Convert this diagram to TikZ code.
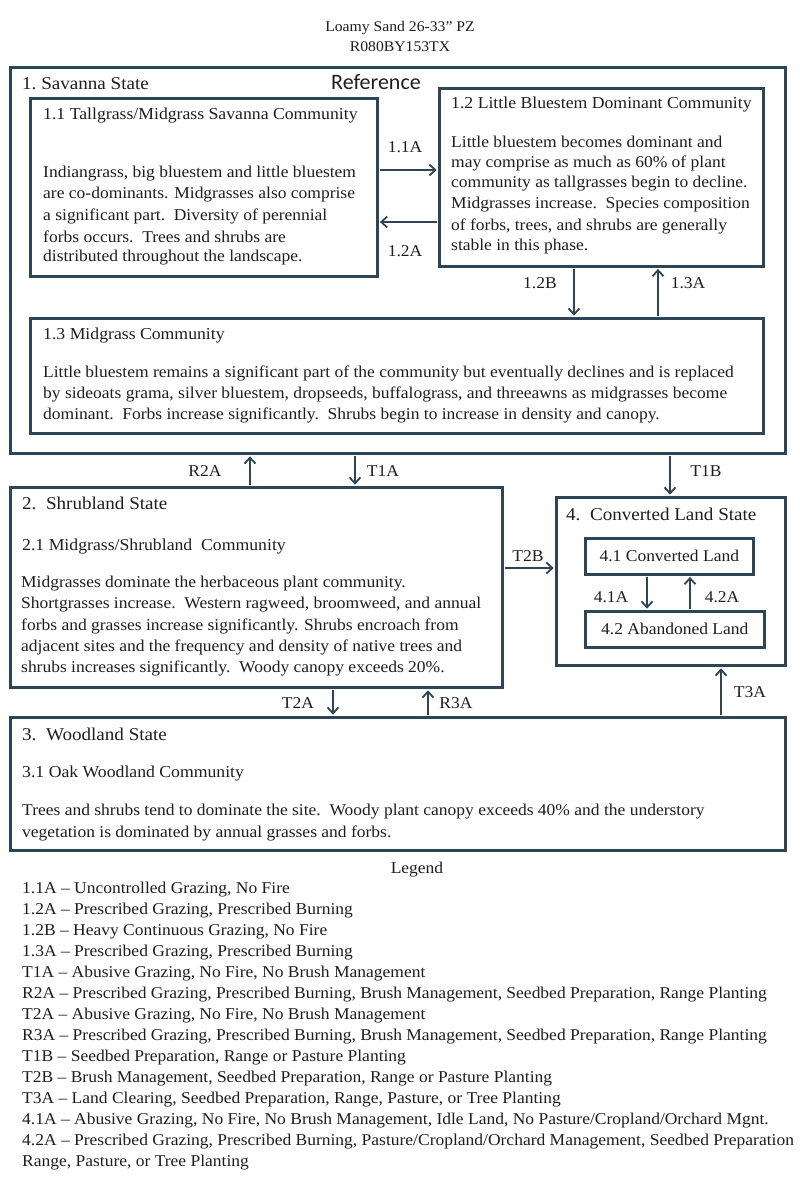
\documentclass[tikz,border=0pt]{standalone}
\usepackage{fontspec}
\setmainfont[FakeStretch=1.06]{Liberation Serif}
\newfontfamily\refsans{Carlito}
\usetikzlibrary{arrows.meta}
\definecolor{edge}{HTML}{2E4557}
\definecolor{ink}{HTML}{1E1E1E}
\tikzset{
  statebox/.style={draw=edge, line width=3pt, anchor=north west, inner sep=0pt},
  commbox/.style={draw=edge, line width=2.6pt, anchor=north west, inner sep=0pt},
  trans/.style={draw=edge, line width=1.8pt, shorten >=1.3pt, shorten <=1.3pt,
    -{Straight Barb[length=6pt,width=11pt,line width=1.8pt]}},
  txt/.style={anchor=west, inner sep=0pt, text=ink, font=\fontsize{16.5}{21}\selectfont},
  hdr/.style={anchor=west, inner sep=0pt, text=ink, font=\fontsize{16.7}{21}\selectfont},
  shdr/.style={anchor=west, inner sep=0pt, text=ink, font=\fontsize{18}{21}\selectfont},
  lbl/.style={inner sep=0pt, text=ink, font=\fontsize{16.5}{21}\selectfont},
  ttl/.style={inner sep=0pt, text=ink, font=\fontsize{14.8}{21}\selectfont},
  leg/.style={anchor=west, inner sep=0pt, text=ink, font=\fontsize{16.5}{21}\selectfont},
}
\begin{document}
\begin{tikzpicture}[x=1pt,y=-1pt]
\useasboundingbox[fill=white] (0,0) rectangle (800,1192);

% title
\node[ttl] (t1) at (400,28) {Loamy Sand 26-33'' PZ};
\node[ttl] (t2) at (400,47) {R080BY153TX};

% boxes
\node[statebox, minimum width=775pt, minimum height=386pt] (s1) at (9,66) {};
\node[commbox, minimum width=347pt, minimum height=178pt] (b11) at (29,97) {};
\node[commbox, minimum width=324pt, minimum height=178pt] (b12) at (438,87) {};
\node[commbox, minimum width=733pt, minimum height=115pt] (b13) at (29,317) {};
\node[statebox, minimum width=492pt, minimum height=200pt] (s2) at (9,486) {};
\node[statebox, minimum width=229pt, minimum height=168pt] (s4) at (555,496) {};
\node[commbox, minimum width=168pt, minimum height=36pt] (b41) at (584,537) {};
\node[commbox, minimum width=179pt, minimum height=36pt] (b42) at (584,610) {};
\node[statebox, minimum width=775pt, minimum height=133pt] (s3) at (9,716) {};

% helper coordinates for connector positions
\coordinate (y170) at (0,170);
\coordinate (y222) at (0,222);
\coordinate (y568) at (0,568);
\coordinate (x574) at (574,0);
\coordinate (x658) at (658,0);
\coordinate (x250) at (250,0);
\coordinate (x355) at (355,0);
\coordinate (x670) at (670,0);
\coordinate (x647) at (647,0);
\coordinate (x690) at (690,0);
\coordinate (x333) at (333,0);
\coordinate (x428) at (428,0);
\coordinate (x721) at (721,0);

% connectors
\draw[trans] (b11.east |- y170) -- (b12.west |- y170);
\draw[trans] (b12.west |- y222) -- (b11.east |- y222);
\draw[trans] (b12.south -| x574) -- (b13.north -| x574);
\draw[trans] (b13.north -| x658) -- (b12.south -| x658);
\draw[trans] (s2.north -| x250) -- (s1.south -| x250);
\draw[trans] (s1.south -| x355) -- (s2.north -| x355);
\draw[trans] (s1.south -| x670) -- (s4.north -| x670);
\draw[trans] (s2.east |- y568) -- (s4.west |- y568);
\draw[trans] (b41.south -| x647) -- (b42.north -| x647);
\draw[trans] (b42.north -| x690) -- (b41.south -| x690);
\draw[trans] (s2.south -| x333) -- (s3.north -| x333);
\draw[trans] (s3.north -| x428) -- (s2.south -| x428);
\draw[trans] (s3.north -| x721) -- (s4.south -| x721);

% connector labels
\node[lbl] (l11a) at (405,147) {1.1A};
\node[lbl] (l12a) at (405,251) {1.2A};
\node[lbl] (l12b) at (540,283) {1.2B};
\node[lbl] (l13a) at (688,283) {1.3A};
\node[lbl] (lr2a) at (205,471) {R2A};
\node[lbl] (lt1a) at (383,471) {T1A};
\node[lbl] (lt1b) at (706,471) {T1B};
\node[lbl] (lt2b) at (528,556) {T2B};
\node[lbl] (l41a) at (611,597) {4.1A};
\node[lbl] (l42a) at (722,597) {4.2A};
\node[lbl] (lt2a) at (298,703) {T2A};
\node[lbl] (lr3a) at (456,703) {R3A};
\node[lbl] (lt3a) at (750,692) {T3A};

% state 1
\node[shdr] (h1) at (22,84) {1.\ Savanna State};
\node[anchor=west, inner sep=0pt, text=ink, font=\refsans\fontsize{22}{24}\selectfont] (ref) at (331,82) {Reference};
\node[hdr] (h11) at (43,116) {1.1 Tallgrass/Midgrass Savanna Community};
\foreach \t [count=\i from 0] in {
  {Indiangrass, big bluestem and little bluestem},
  {are co-dominants. Midgrasses also comprise},
  {a significant part.\ \ Diversity of perennial},
  {forbs occurs.\ \ Trees and shrubs are},
  {distributed throughout the landscape.}}
  \node[txt] (p11-\i) at (43,174+21*\i) {\t};
\node[hdr] (h12) at (451,105) {1.2 Little Bluestem Dominant Community};
\foreach \t [count=\i from 0] in {
  {Little bluestem becomes dominant and},
  {may comprise as much as 60\% of plant},
  {community as tallgrasses begin to decline.},
  {Midgrasses increase.\ \ Species composition},
  {of forbs, trees, and shrubs are generally},
  {stable in this phase.}}
  \node[txt] (p12-\i) at (451,142+21*\i) {\t};
\node[hdr] (h13) at (43,336) {1.3 Midgrass Community};
\foreach \t [count=\i from 0] in {
  {Little bluestem remains a significant part of the community but eventually declines and is replaced},
  {by sideoats grama, silver bluestem, dropseeds, buffalograss, and threeawns as midgrasses become},
  {dominant.\ \ Forbs increase significantly.\ \ Shrubs begin to increase in density and canopy.}}
  \node[txt] (p13-\i) at (43,373+21*\i) {\t};

% state 2
\node[shdr] (h2) at (22,503) {2.\ \ Shrubland State};
\node[hdr] (h21) at (22,546) {2.1 Midgrass/Shrubland\ \ Community};
\foreach \t [count=\i from 0] in {
  {Midgrasses dominate the herbaceous plant community.},
  {Shortgrasses increase.\ \ Western ragweed, broomweed, and annual},
  {forbs and grasses increase significantly. Shrubs encroach from},
  {adjacent sites and the frequency and density of native trees and},
  {shrubs increases significantly.\ \ Woody canopy exceeds 20\%.}}
  \node[txt] (p21-\i) at (21,584+21*\i) {\t};

% state 4
\node[shdr] (h4) at (566,514) {4.\ \ Converted Land State};
\node[lbl] (h41) at (b41.center) {4.1 Converted Land};
\node[lbl] (h42) at (b42.center) {4.2 Abandoned Land};

% state 3
\node[shdr] (h3) at (22,734) {3.\ \ Woodland State};
\node[hdr] (h31) at (22,773) {3.1 Oak Woodland Community};
\node[txt] (p31-0) at (22,812) {Trees and shrubs tend to dominate the site.\ \ Woody plant canopy exceeds 40\% and the understory};
\node[txt] (p31-1) at (22,833) {vegetation is dominated by annual grasses and forbs.};

% legend
\node[lbl] (lg) at (417,870) {Legend};
\foreach \t [count=\i from 0] in {
  {1.1A -- Uncontrolled Grazing, No Fire},
  {1.2A -- Prescribed Grazing, Prescribed Burning},
  {1.2B -- Heavy Continuous Grazing, No Fire},
  {1.3A -- Prescribed Grazing, Prescribed Burning},
  {T1A -- Abusive Grazing, No Fire, No Brush Management},
  {R2A -- Prescribed Grazing, Prescribed Burning, Brush Management, Seedbed Preparation, Range Planting},
  {T2A -- Abusive Grazing, No Fire, No Brush Management},
  {R3A -- Prescribed Grazing, Prescribed Burning, Brush Management, Seedbed Preparation, Range Planting},
  {T1B -- Seedbed Preparation, Range or Pasture Planting},
  {T2B -- Brush Management, Seedbed Preparation, Range or Pasture Planting},
  {T3A -- Land Clearing, Seedbed Preparation, Range, Pasture, or Tree Planting},
  {4.1A -- Abusive Grazing, No Fire, No Brush Management, Idle Land, No Pasture/Cropland/Orchard Mgnt.},
  {4.2A -- Prescribed Grazing, Prescribed Burning, Pasture/Cropland/Orchard Management, Seedbed Preparation},
  {Range, Pasture, or Tree Planting}}
  \node[leg] (lg-\i) at (22,890+21*\i) {\t};
\end{tikzpicture}
\end{document}
